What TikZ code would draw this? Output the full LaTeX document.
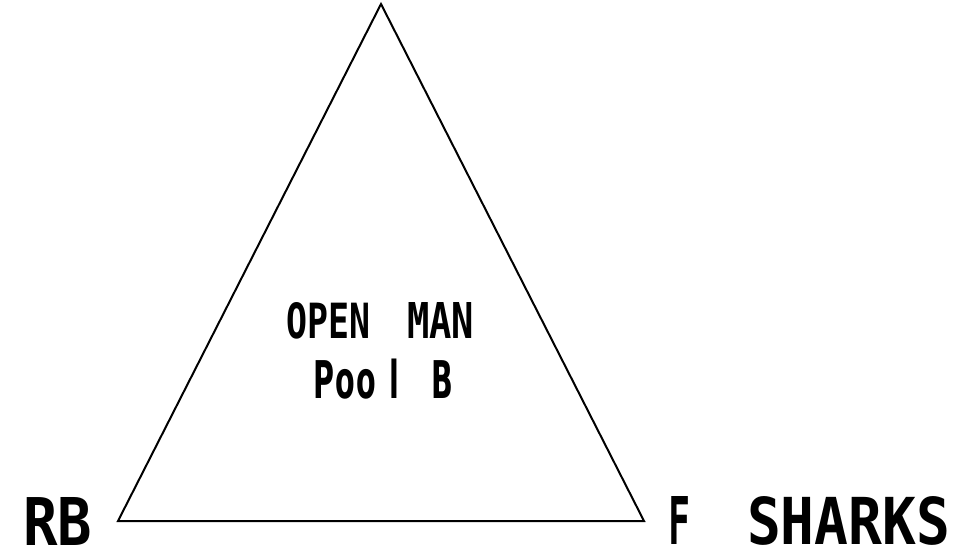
\documentclass[tikz,border=0pt]{standalone}
\usepackage{fontspec}
\newfontfamily\labfont{DejaVu Sans Mono}[BoldFont={DejaVu Sans Mono Bold}]
\newfontfamily\glfont{DejaVu Sans}[BoldFont={DejaVu Sans Bold}]
\newcommand{\fitw}[3]{\resizebox{#1pt}{#2pt}{\labfont\bfseries #3}}
\newcommand{\gl}[1]{\makebox[0pt][c]{\scalebox{0.55}[1]{\fontsize{52pt}{52pt}\glfont\bfseries #1}}}
\begin{document}
\begin{tikzpicture}[x=1pt,y=-1pt,
  lab/.style={anchor=south west,inner sep=0pt,outer sep=0pt},
  edge/.style={line width=2pt,line join=miter}]
\useasboundingbox (0,0) rectangle (980,559);
\coordinate (A) at (381,4);
\coordinate (B) at (118,521);
\coordinate (C) at (644,521);
\draw[edge] (A) -- (B) -- (C) -- cycle;
\node[lab] (rb) at (23,545) {\fitw{69}{48}{RB}};
\node[lab] (fs) at (668,545) {\fitw{22}{48}{F}\hspace{57pt}\fitw{203}{48}{SHARKS}};
\node[lab] (open) at (286,339) {\fitw{84}{36}{OPEN}\hspace{37pt}\fitw{67}{36}{MAN}};
\node[lab,anchor=base west] (pool) at (315,398) {\hspace{8.5pt}\gl{P}\hspace{21.5pt}\gl{o}\hspace{21pt}\gl{o}\hspace{28.5pt}\gl{l}\hspace{47.5pt}\gl{B}\hspace{10pt}};
\end{tikzpicture}
\end{document}
